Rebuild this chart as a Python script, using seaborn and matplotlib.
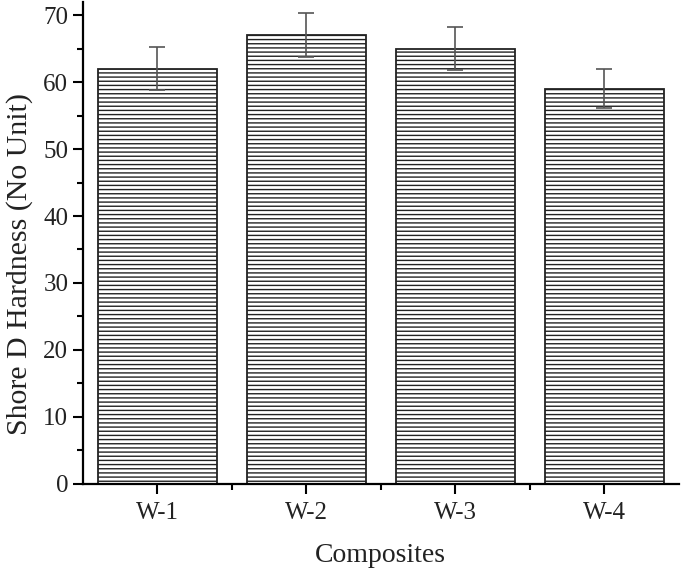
import pandas as pd
import seaborn as sns
import matplotlib.pyplot as plt
from matplotlib.ticker import MultipleLocator

#data
composites = ["W-1", "W-2", "W-3", "W-4"]
hardness = [62, 67, 65, 59]
hardness_err = [3.2, 3.3, 3.2, 2.9]

df = pd.DataFrame({"Composites": composites, "Hardness": hardness})

sns.set_style("ticks")
plt.rcParams["font.family"] = ["Liberation Serif", "DejaVu Serif"]
plt.rcParams["hatch.color"] = "#9a9a9a"
plt.rcParams["hatch.linewidth"] = 1.0

fig = plt.figure(figsize=(6.85, 5.74), dpi=100)
ax = fig.add_axes([0.121, 0.157, 0.87, 0.84])

sns.barplot(data=df, x="Composites", y="Hardness", color="white", edgecolor="#222222",
            linewidth=1.3, width=0.8, errorbar=None, ax=ax)
for bar in ax.patches:
    bar.set_hatch("----")

ax.errorbar(range(len(composites)), hardness, yerr=hardness_err, fmt="none",
            ecolor="#555555", elinewidth=1.2, capsize=6, capthick=1.2)

ax.set_xlim(-0.5, 3.5)
ax.set_ylim(0, 72)
ax.yaxis.set_major_locator(MultipleLocator(10))
ax.yaxis.set_minor_locator(MultipleLocator(5))
ax.set_xticks(range(len(composites)))
ax.set_xticks([0.5, 1.5, 2.5], minor=True)
ax.tick_params(axis="both", which="major", direction="out", length=7, width=1.5,
               labelsize=18, color="black", labelcolor="#222222")
ax.tick_params(axis="both", which="minor", direction="out", length=4, width=1.5, color="black")
ax.tick_params(axis="x", pad=6)
sns.despine(ax=ax)
for s in ["left", "bottom"]:
    ax.spines[s].set_linewidth(1.6)
    ax.spines[s].set_color("black")

ax.set_xlabel("Composites", fontsize=20, labelpad=14, color="#222222")
ax.set_ylabel("Shore D Hardness (No Unit)", fontsize=21.5, labelpad=4, color="#222222")
ax.yaxis.set_label_coords(-0.083, 0.455)

fig.savefig("out.png", dpi=100)
